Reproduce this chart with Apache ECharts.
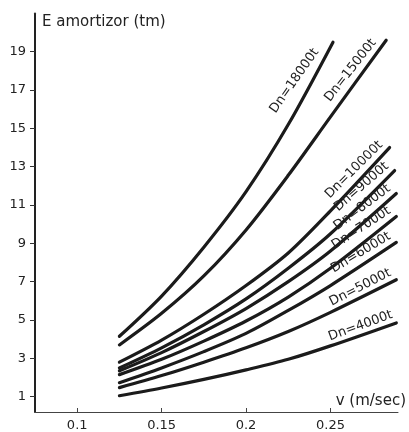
<!DOCTYPE html>
<html>
<head>
<meta charset="utf-8">
<script src="https://cdn.jsdelivr.net/npm/echarts@6/dist/echarts.min.js"></script>
<style>
html,body{margin:0;padding:0;background:#fff;}
#c{width:409px;height:432px;}
</style>
</head>
<body>
<div id="c"></div>
<script>
// ---- data ----
const seriesNames = ['Dn=18000t','Dn=15000t','Dn=10000t','Dn=9000t','Dn=8000t','Dn=7000t','Dn=6000t','Dn=5000t','Dn=4000t'];

const v_18000 = [0.125, 0.15, 0.175, 0.2, 0.225, 0.2515];
const E_18000 = [4.15, 6.25, 8.8, 11.7, 15.2, 19.5];

const v_15000 = [0.125, 0.15, 0.175, 0.2, 0.225, 0.25, 0.283];
const E_15000 = [3.7, 5.35, 7.3, 9.7, 12.55, 15.6, 19.6];

const v_10000 = [0.125, 0.15, 0.175, 0.2, 0.225, 0.25, 0.285];
const E_10000 = [2.8, 3.95, 5.3, 6.8, 8.5, 10.7, 14.0];

const v_9000 = [0.125, 0.15, 0.175, 0.2, 0.225, 0.25, 0.288];
const E_9000 = [2.5, 3.55, 4.75, 6.1, 7.7, 9.5, 12.8];

const v_8000 = [0.125, 0.15, 0.175, 0.2, 0.225, 0.25, 0.289];
const E_8000 = [2.35, 3.3, 4.4, 5.6, 7.0, 8.6, 11.6];

const v_7000 = [0.125, 0.15, 0.175, 0.2, 0.225, 0.25, 0.289];
const E_7000 = [2.15, 2.95, 3.9, 4.95, 6.2, 7.7, 10.4];

const v_6000 = [0.125, 0.15, 0.175, 0.2, 0.225, 0.25, 0.289];
const E_6000 = [1.73, 2.5, 3.35, 4.3, 5.5, 6.8, 9.05];

const v_5000 = [0.125, 0.15, 0.175, 0.2, 0.225, 0.25, 0.289];
const E_5000 = [1.47, 2.1, 2.8, 3.55, 4.4, 5.4, 7.1];

const v_4000 = [0.125, 0.15, 0.175, 0.2, 0.225, 0.25, 0.289];
const E_4000 = [1.05, 1.45, 1.9, 2.4, 2.95, 3.65, 4.85];

const xTicks = [0.1, 0.15, 0.2, 0.25];
const yTicks = [1, 3, 5, 7, 9, 11, 13, 15, 17, 19];

const xName = 'v (m/sec)';
const yName = 'E amortizor (tm)';

// ---- styling (label angle / offsets along the curve end) ----
const labelStyle = [
  {angle: 55, back: 16, perp: 3},
  {angle: 52, back: 8,  perp: 3},
  {angle: 45, back: 3,  perp: 3},
  {angle: 41, back: 2,  perp: 3},
  {angle: 37, back: 2,  perp: 3},
  {angle: 33, back: 2,  perp: 3},
  {angle: 31, back: 2,  perp: 3},
  {angle: 27, back: 2,  perp: 3},
  {angle: 20, back: 1,  perp: 3}
];

const allV = [v_18000, v_15000, v_10000, v_9000, v_8000, v_7000, v_6000, v_5000, v_4000];
const allE = [E_18000, E_15000, E_10000, E_9000, E_8000, E_7000, E_6000, E_5000, E_4000];

const FONT = 'DejaVu Sans';
const INK = '#1b1b1b';

const series = seriesNames.map((name, s) => {
  const vs = allV[s], es = allE[s], st = labelStyle[s];
  const th = st.angle * Math.PI / 180;
  const dx = -st.back * Math.cos(th) - st.perp * Math.sin(th);
  const dy = st.back * Math.sin(th) - st.perp * Math.cos(th);
  const data = vs.map((x, i) => {
    if (i === vs.length - 1) {
      return {
        value: [x, es[i]],
        label: {
          show: true,
          formatter: name,
          position: [dx + 0.5, dy + 0.5],
          rotate: st.angle,
          align: 'right',
          verticalAlign: 'bottom',
          fontFamily: FONT,
          fontSize: 13,
          color: '#222'
        }
      };
    }
    return [x, es[i]];
  });
  return {
    type: 'line',
    name: name,
    data: data,
    smooth: 0.3,
    symbol: 'circle',
    symbolSize: 1,
    showSymbol: true,
    showAllSymbol: true,
    itemStyle: {color: INK},
    lineStyle: {color: INK, width: 3.2, cap: 'round'},
    label: {show: false},
    emphasis: {disabled: true},
    silent: true,
    z: 3
  };
});

const chart = echarts.init(document.getElementById('c'), null, {renderer: 'canvas'});
chart.setOption({
  animation: false,
  backgroundColor: '#fff',
  grid: {left: 35, right: 8.5, top: 13.4, bottom: 17.6, containLabel: false},
  xAxis: {
    type: 'value',
    min: 0.075,
    max: 0.29,
    name: xName,
    nameLocation: 'end',
    nameGap: 8,
    nameTextStyle: {fontFamily: FONT, fontSize: 15, color: '#222', align: 'right', verticalAlign: 'bottom', padding: [0, 0, 3, 0]},
    axisLine: {show: true, lineStyle: {color: '#444', width: 1}},
    axisTick: {show: true, inside: true, length: 4, customValues: xTicks, lineStyle: {color: '#444'}},
    axisLabel: {show: true, customValues: xTicks, margin: 7, fontFamily: FONT, fontSize: 13, color: '#222',
      formatter: v => String(v)},
    splitLine: {show: false}
  },
  yAxis: {
    type: 'value',
    min: 0.2,
    max: 21,
    name: yName,
    nameLocation: 'end',
    nameGap: -9,
    nameTextStyle: {fontFamily: FONT, fontSize: 15, color: '#222', align: 'left', verticalAlign: 'middle', padding: [0, 0, 0, 7]},
    axisLine: {show: true, lineStyle: {color: '#222', width: 2}},
    axisTick: {show: true, inside: false, length: 5, customValues: yTicks, lineStyle: {color: '#333'}},
    axisLabel: {show: true, customValues: yTicks, margin: 9, fontFamily: FONT, fontSize: 13, color: '#222'},
    splitLine: {show: false}
  },
  series: series
});
</script>
</body>
</html>
